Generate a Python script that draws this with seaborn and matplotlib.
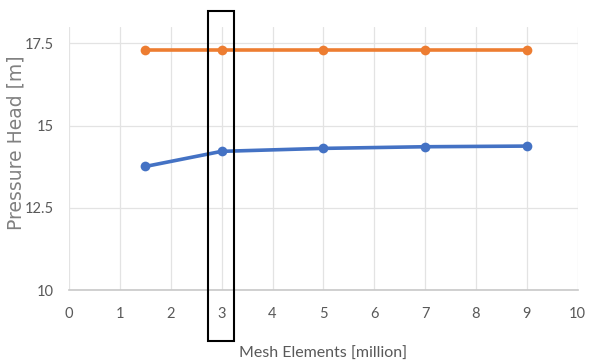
import matplotlib
matplotlib.use("Agg")
import matplotlib.pyplot as plt
import matplotlib.transforms as mtransforms
from matplotlib.patches import Rectangle
import pandas as pd
import seaborn as sns

# Mesh sizes (million elements) and pressure head results
mesh_elements = [1.5, 3, 5, 7, 9]
head_upper = [17.31, 17.31, 17.31, 17.31, 17.31]
head_lower = [13.76, 14.22, 14.31, 14.36, 14.38]
series_names = ["Upper", "Lower"]
series_colors = ["#ED7D31", "#4472C4"]

x_ticks = [0, 1, 2, 3, 4, 5, 6, 7, 8, 9, 10]
y_ticks = [10, 12.5, 15, 17.5]
y_tick_labels = ["10", "12.5", "15", "17.5"]
selected_mesh = 3

df = pd.DataFrame({
    "mesh": mesh_elements * 2,
    "head": head_upper + head_lower,
    "series": [series_names[0]] * len(mesh_elements) + [series_names[1]] * len(mesh_elements),
})

sns.set_style("white")
fig = plt.figure(figsize=(5.95, 3.6), dpi=100)
ax = fig.add_axes([0.116, 0.194, 0.855, 0.731])

sns.lineplot(
    data=df, x="mesh", y="head", hue="series",
    palette=dict(zip(series_names, series_colors)),
    marker="o", markersize=7, markeredgewidth=0, linewidth=2.6,
    legend=False, ax=ax,
)

ax.set_xlim(0, 10)
ax.set_ylim(10, 18)
ax.set_xticks(x_ticks)
ax.set_yticks(y_ticks)
ax.set_yticklabels(y_tick_labels)
ax.grid(True, color="#E3E3E3", linewidth=0.9)
ax.set_axisbelow(True)
for side in ["top", "right", "left"]:
    ax.spines[side].set_visible(False)
ax.spines["bottom"].set_color("#C8C8C8")
ax.spines["bottom"].set_linewidth(1.2)
ax.tick_params(axis="both", length=0, colors="#595959", labelsize=10.5)
ax.tick_params(axis="x", pad=12)
ax.tick_params(axis="y", pad=11)
for lab in ax.get_xticklabels() + ax.get_yticklabels():
    lab.set_fontfamily("Lato")

ax.set_xlabel("Mesh Elements [million]", fontsize=11.5, color="#595959",
              fontfamily="Lato")
ax.xaxis.set_label_coords(0.5, -0.215)
ax.set_ylabel("Pressure Head [m]", fontsize=13.5, color="#808080",
              fontfamily="DejaVu Sans")
ax.yaxis.set_label_coords(-0.086, 0.56)

# Box highlighting the chosen mesh size
trans = mtransforms.blended_transform_factory(ax.transData, ax.transAxes)
box = Rectangle((selected_mesh - 0.27, -0.194), 0.52, 1.255, transform=trans,
                fill=False, edgecolor="black", linewidth=1.5, clip_on=False, zorder=5)
ax.add_patch(box)

fig.savefig("out.png", dpi=100, facecolor="white")
